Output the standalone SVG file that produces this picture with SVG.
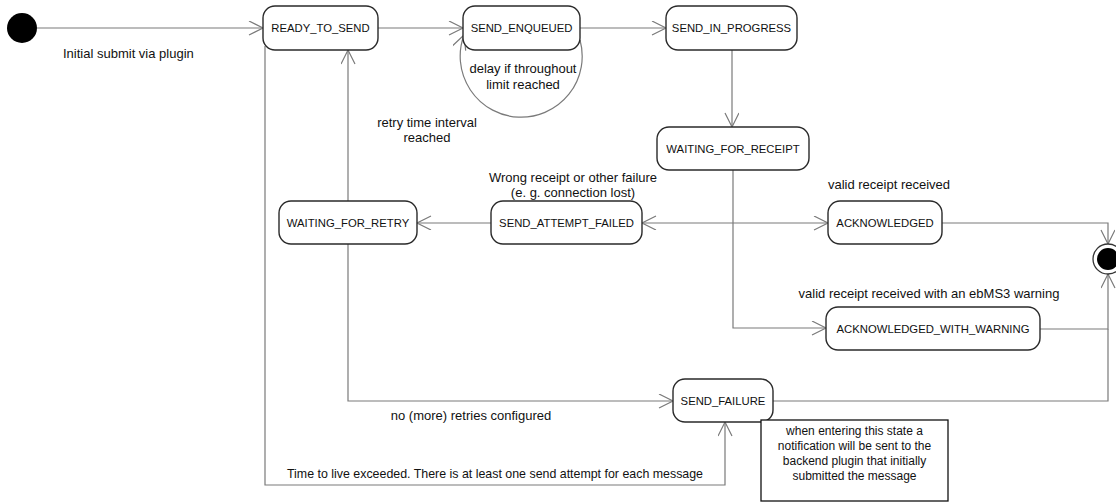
<svg xmlns="http://www.w3.org/2000/svg" width="1116" height="503" viewBox="0 0 1116 503">
<style>
.st{fill:#fff;stroke:#2a2a2a;stroke-width:1.4}
.sl{font-family:"Liberation Sans",Arial,sans-serif;font-size:11.3px;fill:#111;text-anchor:middle}
.lb{font-family:"Liberation Sans",Arial,sans-serif;font-size:13px;fill:#111}
.nt{font-family:"Liberation Sans",Arial,sans-serif;font-size:12px;fill:#111;text-anchor:middle}
.c{fill:none;stroke:#7a7a7a;stroke-width:1.2}
.a{marker-end:url(#arr)}
</style>
<defs>
<marker id="arr" markerUnits="userSpaceOnUse" markerWidth="18" markerHeight="18" refX="15" refY="7" orient="auto" viewBox="0 0 18 18">
<path d="M1,0 L15,7 L1,14" fill="none" stroke="#7a7a7a" stroke-width="1.2"/>
</marker>
<marker id="arrs" markerUnits="userSpaceOnUse" markerWidth="18" markerHeight="18" refX="15" refY="7" orient="auto-start-reverse" viewBox="0 0 18 18">
<path d="M1,0 L15,7 L1,14" fill="none" stroke="#7a7a7a" stroke-width="1.2"/>
</marker>
</defs>

<g id="connectors">
<path class="c a" d="M37,28 H263"/>
<path class="c a" d="M378,28 H463"/>
<path class="c a" d="M580,40 A61,61 0 1 1 464,35"/>
<path class="c a" d="M580,28 H666"/>
<path class="c a" d="M732,50 V127"/>
<path class="c a" d="M733,170 V328 H826"/>
<path class="c a" d="M642,223 H828" marker-start="url(#arrs)"/>
<path class="c a" d="M491,223 H417"/>
<path class="c a" d="M348,201 V50"/>
<path class="c a" d="M348,244 V401 H673"/>
<path class="c a" d="M265,46 V485 H725 V422"/>
<path class="c a" d="M942,223 H1108 V244"/>
<path class="c a" d="M1040,329 H1108 V274"/>
<path class="c" d="M773,401 H1108 V329"/>
</g>

<g id="labels">
<text class="lb" x="63" y="58">Initial submit via plugin</text>
<text class="lb" x="523" y="72.5" text-anchor="middle">delay if throughout</text>
<text class="lb" x="523" y="88.5" text-anchor="middle">limit reached</text>
<text class="lb" x="427" y="127" text-anchor="middle">retry time interval</text>
<text class="lb" x="427" y="142" text-anchor="middle">reached</text>
<text class="lb" x="573" y="181.5" text-anchor="middle">Wrong receipt or other failure</text>
<text class="lb" x="573" y="196.5" text-anchor="middle">(e. g. connection lost)</text>
<text class="lb" x="889" y="188.5" text-anchor="middle">valid receipt received</text>
<text class="lb" x="929" y="297.5" text-anchor="middle">valid receipt received with an ebMS3 warning</text>
<text class="lb" x="471" y="419.5" text-anchor="middle">no (more) retries configured</text>
<text class="lb" x="495" y="477.5" text-anchor="middle" style="font-size:12.4px">Time to live exceeded. There is at least one send attempt for each message</text>
</g>

<g id="initial"><circle cx="22" cy="28" r="15" fill="#000"/></g>

<g id="ready_to_send"><rect class="st" x="263" y="6" width="115" height="44" rx="12"/><text class="sl" x="320.5" y="32">READY_TO_SEND</text></g>
<g id="send_enqueued"><rect class="st" x="463" y="6" width="117" height="44" rx="12"/><text class="sl" x="521.5" y="32">SEND_ENQUEUED</text></g>
<g id="send_in_progress"><rect class="st" x="666" y="6" width="131" height="44" rx="12"/><text class="sl" x="731.5" y="32">SEND_IN_PROGRESS</text></g>
<g id="waiting_for_receipt"><rect class="st" x="657" y="127" width="152" height="43" rx="12"/><text class="sl" x="733" y="152.5">WAITING_FOR_RECEIPT</text></g>
<g id="waiting_for_retry"><rect class="st" x="279" y="201" width="138" height="43" rx="12"/><text class="sl" x="348" y="226.5">WAITING_FOR_RETRY</text></g>
<g id="send_attempt_failed"><rect class="st" x="491" y="201" width="151" height="43" rx="12"/><text class="sl" x="566.5" y="226.5">SEND_ATTEMPT_FAILED</text></g>
<g id="acknowledged"><rect class="st" x="828" y="201" width="114" height="43" rx="12"/><text class="sl" x="885" y="226.5">ACKNOWLEDGED</text></g>
<g id="acknowledged_with_warning"><rect class="st" x="826" y="307" width="214" height="43" rx="12"/><text class="sl" x="933" y="332.5">ACKNOWLEDGED_WITH_WARNING</text></g>
<g id="send_failure"><rect class="st" x="673" y="379" width="100" height="43" rx="12"/><text class="sl" x="723" y="404.5">SEND_FAILURE</text></g>

<g id="final"><circle cx="1108" cy="259" r="15" fill="#fff" stroke="#333" stroke-width="1.3"/><circle cx="1108" cy="259" r="11" fill="#000"/></g>

<g id="note">
<rect x="761" y="420" width="187" height="81" fill="#fff" stroke="#111" stroke-width="1.3"/>
<text class="nt" x="854.5" y="434.5">when entering this state a</text>
<text class="nt" x="854.5" y="449.5">notification will be sent to the</text>
<text class="nt" x="854.5" y="464.5">backend plugin that initially</text>
<text class="nt" x="854.5" y="479.5">submitted the message</text>
</g>
</svg>
